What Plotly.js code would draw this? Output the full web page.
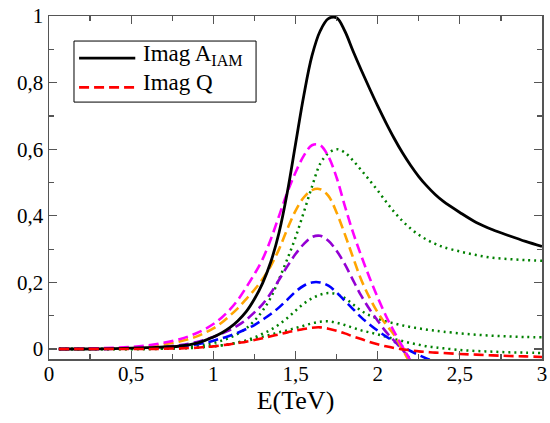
<!DOCTYPE html>
<html>
<head>
<meta charset="utf-8">
<script src="https://cdn.plot.ly/plotly-3.0.1.min.js"></script>
<style>html,body{margin:0;padding:0;background:#fff;}#chart{width:550px;height:423px;}</style>
</head>
<body>
<div id="chart"></div>
<script>
// Energy grid (TeV)
const energy = [0.06, 0.2, 0.4, 0.6, 0.8, 0.9, 0.95, 1.0, 1.05, 1.1, 1.15, 1.2, 1.25, 1.3, 1.35, 1.4, 1.45, 1.5, 1.55, 1.6, 1.65, 1.7, 1.75, 1.8, 1.85, 1.9, 1.95, 2.0, 2.05, 2.1, 2.15, 2.2, 2.25, 2.3, 2.35, 2.4, 2.5, 2.6, 2.7, 2.8, 2.9, 3.0];

// Imag A_IAM (black solid)
const imagA = [0, 0, 0.001, 0.004, 0.009, 0.018, 0.026, 0.036, 0.048, 0.064, 0.085, 0.112, 0.15, 0.198, 0.262, 0.35, 0.47, 0.615, 0.76, 0.88, 0.955, 0.992, 0.995, 0.955, 0.895, 0.838, 0.783, 0.73, 0.68, 0.633, 0.59, 0.552, 0.518, 0.489, 0.464, 0.443, 0.41, 0.38, 0.358, 0.34, 0.323, 0.308];

// Green dotted curves
const green1 = [0, 0, 0, 0.001, 0.004, 0.009, 0.013, 0.018, 0.025, 0.034, 0.046, 0.062, 0.085, 0.115, 0.155, 0.21, 0.27, 0.335, 0.41, 0.487, 0.556, 0.588, 0.6, 0.59, 0.566, 0.537, 0.507, 0.476, 0.443, 0.412, 0.385, 0.362, 0.343, 0.328, 0.316, 0.306, 0.293, 0.282, 0.274, 0.27, 0.267, 0.265];
const green2 = [0, 0, 0, 0, 0.003, 0.006, 0.007, 0.009, 0.011, 0.014, 0.02, 0.026, 0.035, 0.046, 0.058, 0.074, 0.093, 0.115, 0.136, 0.152, 0.163, 0.168, 0.165, 0.153, 0.134, 0.115, 0.101, 0.091, 0.083, 0.077, 0.071, 0.066, 0.062, 0.058, 0.055, 0.052, 0.047, 0.043, 0.04, 0.038, 0.036, 0.035];
const green3 = [0, 0, 0, 0, 0.002, 0.004, 0.006, 0.008, 0.011, 0.015, 0.019, 0.024, 0.03, 0.037, 0.043, 0.05, 0.056, 0.063, 0.07, 0.077, 0.082, 0.083, 0.079, 0.072, 0.064, 0.056, 0.05, 0.044, 0.037, 0.03, 0.024, 0.018, 0.013, 0.008, 0.005, 0.002, -0.003, -0.006, -0.008, -0.01, -0.011, -0.012];

// Imag Q (red dashed)
const imagQ = [0, 0, 0, 0, 0.002, 0.004, 0.006, 0.008, 0.011, 0.014, 0.018, 0.022, 0.027, 0.032, 0.038, 0.044, 0.05, 0.055, 0.06, 0.064, 0.065, 0.061, 0.055, 0.047, 0.038, 0.03, 0.021, 0.014, 0.008, 0.003, -0.001, -0.004, -0.007, -0.009, -0.011, -0.012, -0.015, -0.017, -0.019, -0.021, -0.022, -0.024];

// Other dashed curves (blue, purple, orange, magenta)
const blueQ = [0, 0, 0.001, 0.003, 0.008, 0.014, 0.019, 0.025, 0.032, 0.04, 0.049, 0.06, 0.072, 0.088, 0.105, 0.125, 0.148, 0.172, 0.19, 0.2, 0.2, 0.19, 0.17, 0.145, 0.12, 0.095, 0.074, 0.055, 0.038, 0.022, 0.008, -0.006, -0.018, -0.029, -0.038, -0.046];
const purpleQ = [0, 0, 0.001, 0.004, 0.012, 0.021, 0.028, 0.036, 0.046, 0.057, 0.071, 0.088, 0.11, 0.135, 0.168, 0.208, 0.248, 0.285, 0.315, 0.336, 0.34, 0.325, 0.295, 0.255, 0.207, 0.16, 0.12, 0.085, 0.052, 0.025, -0.002, -0.03, -0.055, -0.08];
const orangeQ = [0, 0, 0.002, 0.008, 0.023, 0.038, 0.049, 0.062, 0.079, 0.1, 0.123, 0.15, 0.178, 0.21, 0.25, 0.3, 0.36, 0.415, 0.455, 0.477, 0.48, 0.46, 0.41, 0.345, 0.275, 0.208, 0.155, 0.11, 0.074, 0.043, 0.0, -0.045, -0.09];
const magentaQ = [0, 0.001, 0.004, 0.011, 0.03, 0.048, 0.06, 0.075, 0.094, 0.118, 0.148, 0.185, 0.225, 0.27, 0.33, 0.4, 0.47, 0.53, 0.58, 0.612, 0.612, 0.578, 0.515, 0.43, 0.35, 0.28, 0.215, 0.155, 0.1, 0.052, 0.008, -0.035, -0.08];

// Axis tick labels
const xTickVals = [0, 0.5, 1, 1.5, 2, 2.5, 3];
const xTickText = ['0', '0,5', '1', '1,5', '2', '2,5', '3'];
const yTickVals = [0, 0.2, 0.4, 0.6, 0.8, 1];
const yTickText = ['0', '0,2', '0,4', '0,6', '0,8', '1'];

// Legend labels
const legendLabels = ['Imag A<sub>IAM</sub>', 'Imag Q'];

const serif = 'Liberation Serif';
const DASH = '10px,5px';
const DOT = '2px,4px';

function tr(y, color, dash, width) {
  return {
    x: energy.slice(0, y.length), y: y, type: 'scatter', mode: 'lines',
    line: {color: color, dash: dash, width: width, shape: 'spline', smoothing: 1},
    showlegend: false, hoverinfo: 'skip'
  };
}

const data = [
  tr(green1, '#008000', DOT, 2.5),
  tr(green2, '#008000', DOT, 2.5),
  tr(green3, '#008000', DOT, 2.5),
  tr(blueQ, '#0000ff', DASH, 2.6),
  tr(purpleQ, '#9400d3', DASH, 2.6),
  tr(orangeQ, '#ffa500', DASH, 2.6),
  tr(magentaQ, '#ff00ff', DASH, 2.6),
  tr(imagA, '#000000', 'solid', 2.8),
  tr(imagQ, '#ff0000', DASH, 2.6)
];

const axisCommon = {
  showgrid: false, zeroline: false, showline: true, linecolor: '#555', linewidth: 1.5,
  mirror: 'ticks', ticks: 'inside', ticklen: 8, tickwidth: 1.3, tickcolor: '#555',
  tickfont: {family: serif, size: 21, color: '#000'}
};

// Legend box drawn in paper coordinates
const legendShapes = [
  {type: 'rect', xref: 'paper', yref: 'paper', x0: 0.0507, x1: 0.42, y0: 0.749, y1: 0.927,
   line: {color: '#000', width: 1}, fillcolor: '#fff', layer: 'above'},
  {type: 'line', xref: 'paper', yref: 'paper', x0: 0.061, x1: 0.175, y0: 0.877, y1: 0.877,
   line: {color: '#000', width: 2.8}, layer: 'above'},
  {type: 'line', xref: 'paper', yref: 'paper', x0: 0.061, x1: 0.175, y0: 0.792, y1: 0.792,
   line: {color: '#ff0000', width: 2.6, dash: DASH}, layer: 'above'}
];
const legendAnn = [
  {xref: 'paper', yref: 'paper', x: 0.186, y: 0.886, xanchor: 'left', yanchor: 'middle',
   text: legendLabels[0], showarrow: false, font: {family: serif, size: 23, color: '#000'}},
  {xref: 'paper', yref: 'paper', x: 0.186, y: 0.805, xanchor: 'left', yanchor: 'middle',
   text: legendLabels[1], showarrow: false, font: {family: serif, size: 23, color: '#000'}}
];

const layout = {
  width: 550, height: 423,
  font: {family: serif, color: '#000'},
  margin: {l: 49, r: 8, t: 16, b: 64},
  paper_bgcolor: '#fff', plot_bgcolor: '#fff',
  separators: ',.',
  showlegend: false,
  xaxis: Object.assign({}, axisCommon, {
    range: [0, 3], tickvals: xTickVals, ticktext: xTickText, ticklabelstandoff: -5,
    minor: {dtick: 0.25, tick0: 0, ticks: 'inside', ticklen: 5, tickwidth: 1.2, tickcolor: '#555'},
    title: {text: 'E(TeV)', font: {family: serif, size: 26, color: '#000'}, standoff: 4}
  }),
  yaxis: Object.assign({}, axisCommon, {
    range: [-0.03, 1.0], tickvals: yTickVals, ticktext: yTickText,
    minor: {dtick: 0.1, tick0: 0, ticks: 'inside', ticklen: 5, tickwidth: 1.2, tickcolor: '#555'}
  }),
  shapes: legendShapes,
  annotations: legendAnn
};

Plotly.newPlot('chart', data, layout, {displayModeBar: false, staticPlot: true});
</script>
</body>
</html>
